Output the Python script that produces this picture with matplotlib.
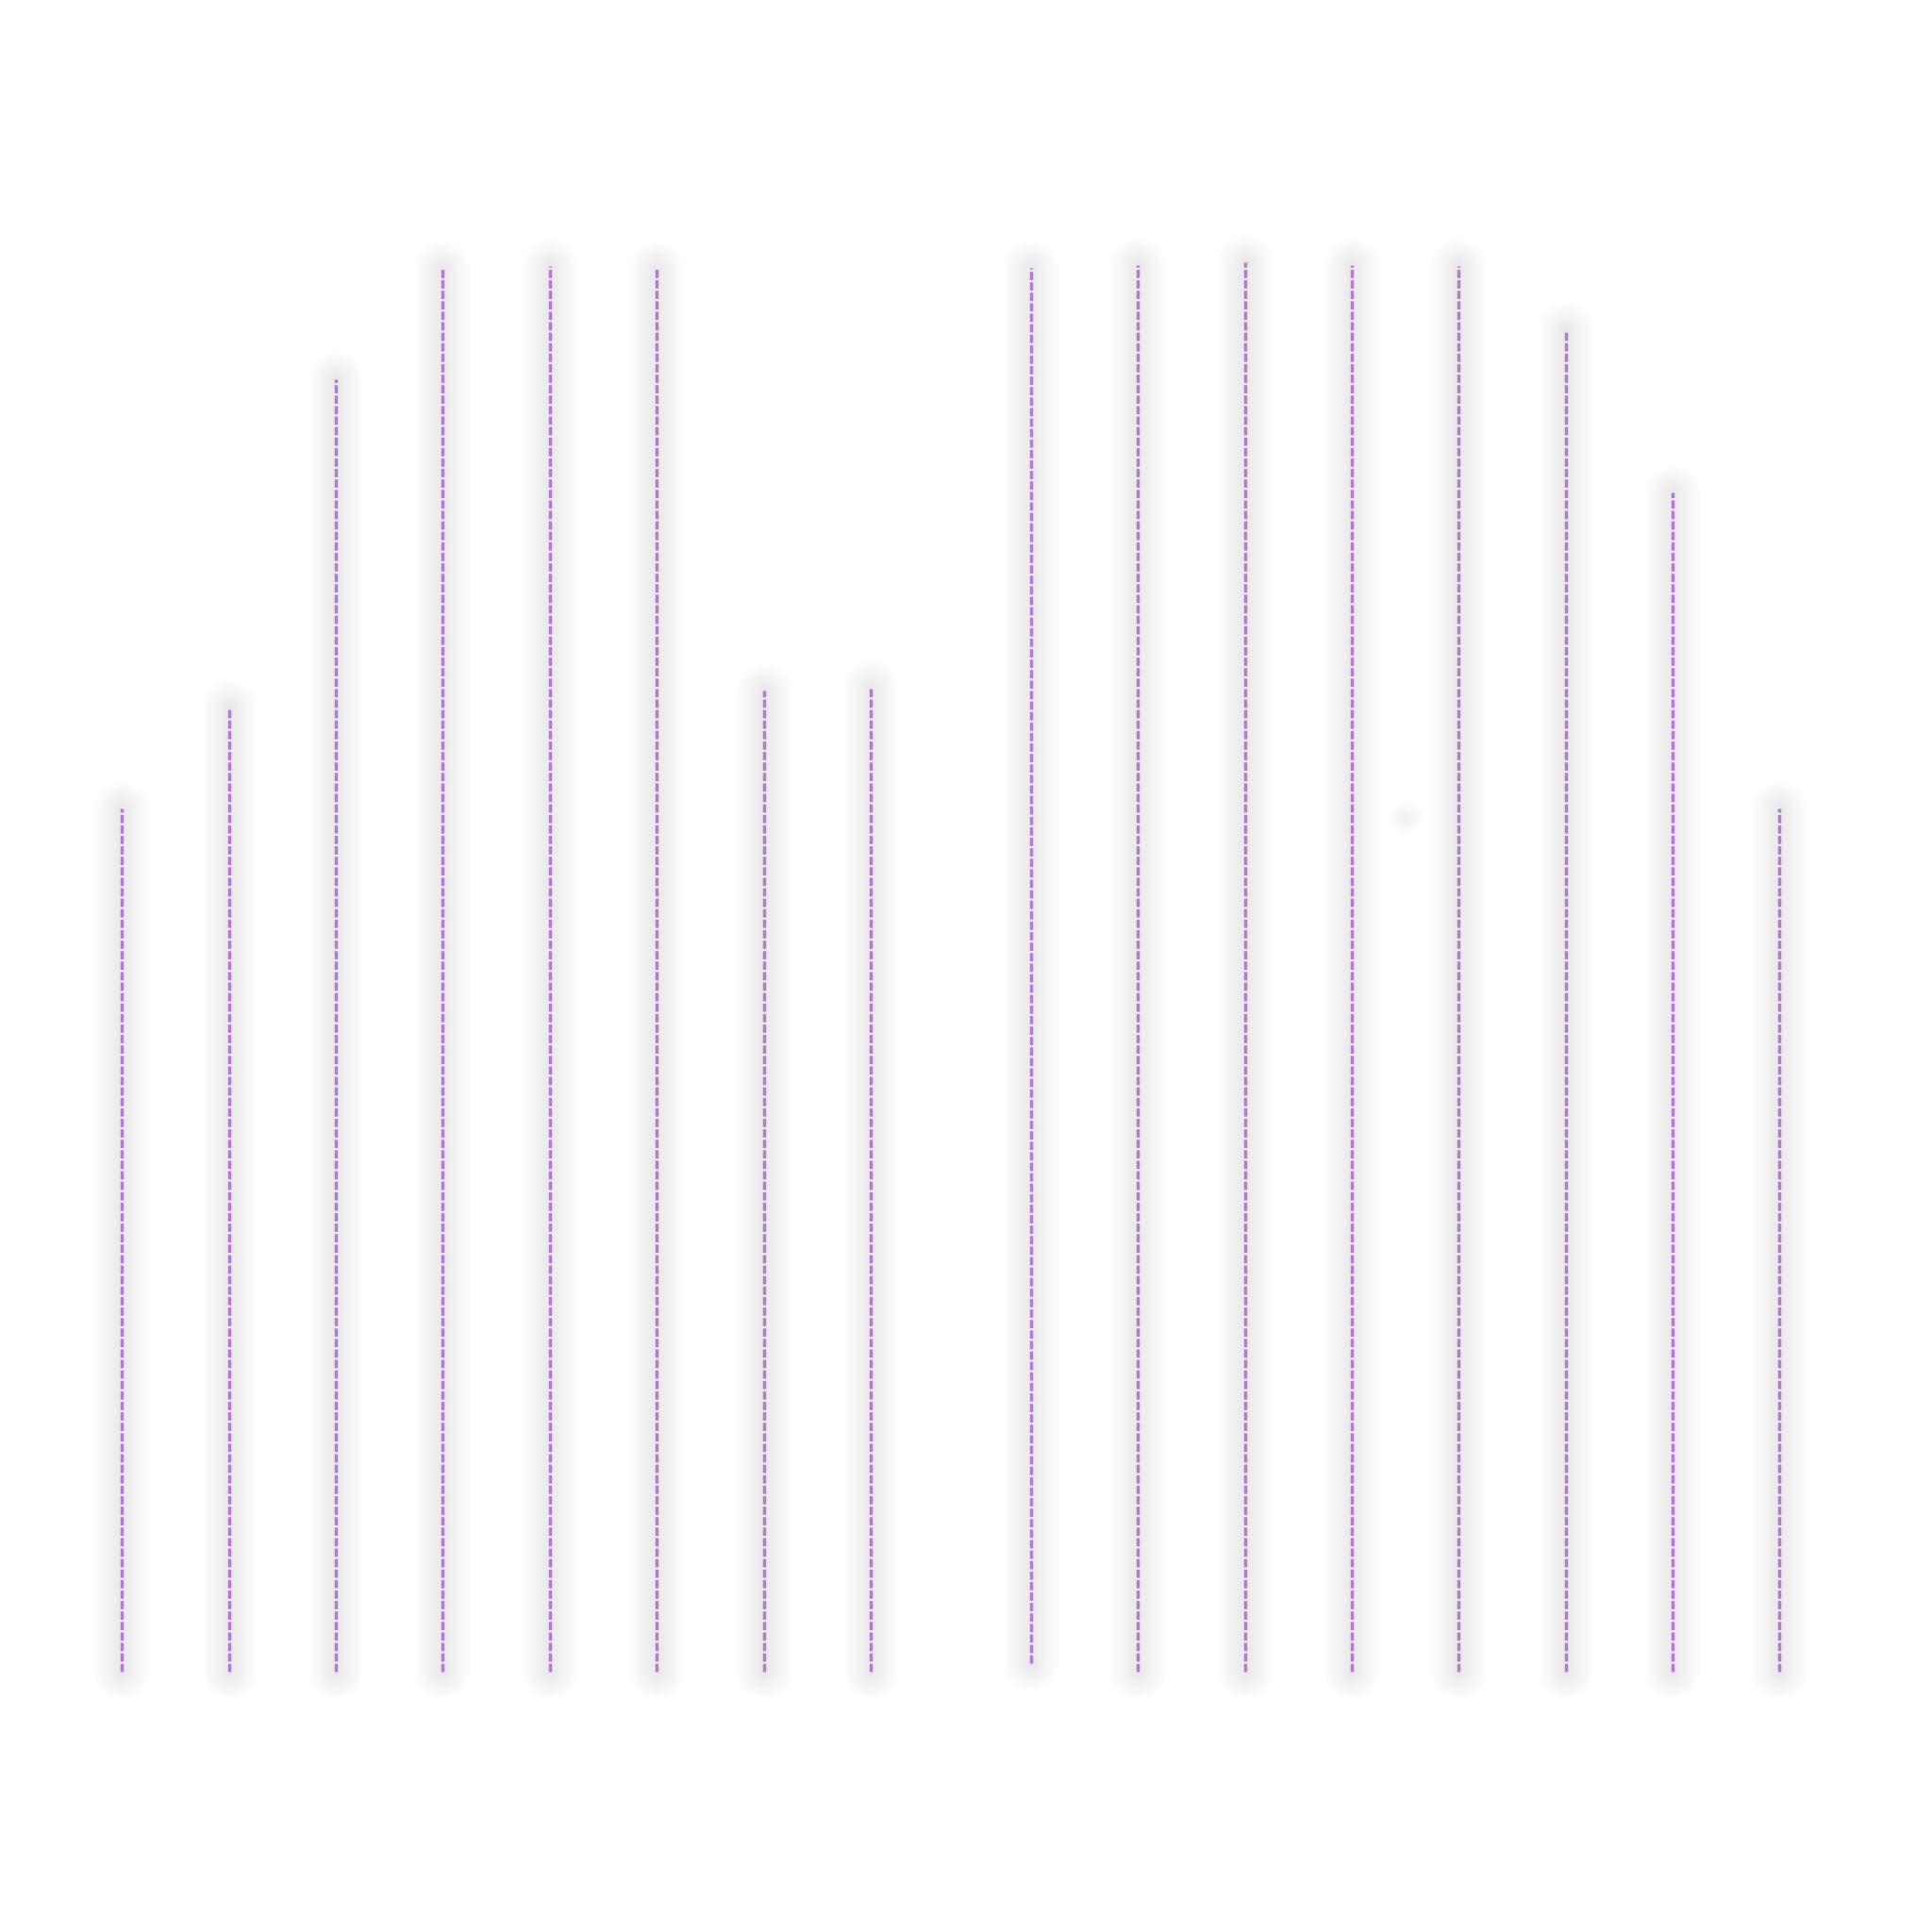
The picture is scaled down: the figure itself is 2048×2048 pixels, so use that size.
import numpy as np
import matplotlib
matplotlib.use("Agg")
import matplotlib.pyplot as plt

# stem positions (first group, then the second group shifted half a step)
xpos = [0, 1, 2, 3, 4, 5, 6, 7, 8.5, 9.5, 10.5, 11.5, 12.5, 13.5, 14.5, 15.5]
tops = [61.0, 68.1, 91.3, 99.1, 99.3, 99.1, 69.3, 69.5,
        99.2, 99.4, 99.6, 99.4, 99.3, 94.8, 83.3, 61.0]
bases = [0, 0, 0, 0, 0, 0, 0, 0, 0.6, 0, 0, 0, 0, 0, 0, 0]

# lone hidden marker, only its shadow shows
blob_x = [12.0]
blob_y = [60.3]

line_color = "#b679d4"

fig = plt.figure(figsize=(10.24, 10.24), dpi=200)
ax = fig.add_axes([0, 0, 1, 1])
ax.set_xlim(-1.1416, 16.925)
ax.set_ylim(-18.4, 118.13)
ax.axis("off")

# soft grey glow behind each stem
for w in np.linspace(60, 4, 22):
    ax.vlines(xpos, bases, tops, colors="k", alpha=0.0055,
              linewidth=w * 0.36, capstyle="round", zorder=1)

for s in np.linspace(36, 4, 14):
    ax.scatter(blob_x, blob_y, s=(s * 0.36) ** 2, color="k", alpha=0.0045,
               linewidths=0, zorder=1)

ax.vlines(xpos, bases, tops, colors=line_color, linewidth=1.25,
          linestyles=[(0, (2.5, 0.7))], zorder=3)

fig.savefig("out.png", dpi=200, facecolor="white")
